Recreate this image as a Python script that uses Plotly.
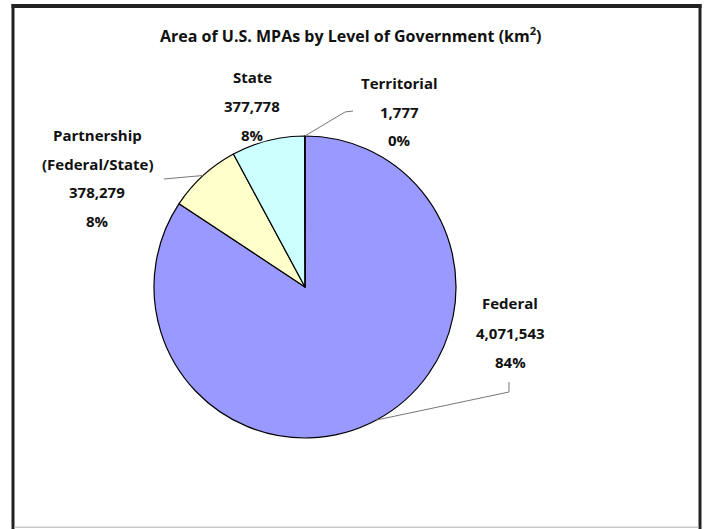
import math
import plotly.graph_objects as go

# ---- data ----
categories = ["Federal", "Partnership<br>(Federal/State)", "State", "Territorial"]
label_names = [["Federal"], ["Partnership", "(Federal/State)"], ["State"], ["Territorial"]]
values = [4071543, 378279, 377778, 1777]
value_labels = ["4,071,543", "378,279", "377,778", "1,777"]
pct_labels = ["84%", "8%", "8%", "0%"]
colors = ["#9999FF", "#FFFFCC", "#CCFFFF", "#993366"]
title_text = "<b>Area of U.S. MPAs by Level of Government (km<sup>2</sup>)</b>"

W, H = 704, 529
cx, cy, R = 305, 287, 151  # pie centre / radius in pixels

def px(x):
    return x / W

def py(y):
    return 1 - y / H

fig = go.Figure()
fig.add_trace(go.Pie(
    labels=categories, values=values, sort=False, direction="clockwise", rotation=0,
    marker=dict(colors=colors, line=dict(color="#000000", width=1.2)),
    textinfo="none", hoverinfo="label+value+percent", showlegend=False,
    domain=dict(x=[px(cx - R), px(cx + R)], y=[py(cy + R), py(cy - R)]),
))

# label blocks: (centre x, first line y, line step), and leader-line path after edge point
label_pos = [(510, 303, 29.5), (97, 135, 28.7), (252, 77, 29), (399, 83, 28.5)]
leader_tail = [[(509, 392), (509, 382)], [(164, 179)], None, [(345, 112), (353, 111)]]

FONT = "'Open Sans', Lato, sans-serif"
font_lbl = dict(family=FONT, size=15, color="#111111")
annotations = []
shapes = []
total = sum(values)
cum = 0
for i, v in enumerate(values):
    mid = (cum + v / 2) / total * 2 * math.pi
    cum += v
    ex = cx + R * math.sin(mid)
    ey = cy - R * math.cos(mid)
    lx, ly, step = label_pos[i]
    lines = label_names[i] + [value_labels[i], pct_labels[i]]
    for k, t in enumerate(lines):
        annotations.append(dict(x=px(lx), y=py(ly + k * step), xref="paper", yref="paper",
                                text="<b>%s</b>" % t, showarrow=False, font=font_lbl,
                                xanchor="center", yanchor="middle"))
    if leader_tail[i]:
        pts = [(ex, ey)] + leader_tail[i]
        path = "M %f,%f " % (px(pts[0][0]), py(pts[0][1])) + " ".join(
            "L %f,%f" % (px(a), py(b)) for a, b in pts[1:])
        shapes.append(dict(type="path", path=path, xref="paper", yref="paper",
                           line=dict(color="#777777", width=1)))

annotations.append(dict(x=px(351), y=py(35), xref="paper", yref="paper", text=title_text,
                        showarrow=False, font=dict(family=FONT, size=16, color="#111111"),
                        xanchor="center", yanchor="middle"))

# outer frame as filled bars
def bar(x0, x1, y0, y1, color):
    return dict(type="rect", xref="paper", yref="paper", x0=px(x0), x1=px(x1),
                y0=py(y1), y1=py(y0), line=dict(width=0), fillcolor=color, layer="above")

shapes.append(bar(11.5, 701.5, 4, 8, "#222222"))      # top
shapes.append(bar(11.5, 14.5, 4, 529, "#222222"))     # left
shapes.append(bar(698.5, 701.5, 4, 529, "#222222"))   # right
shapes.append(bar(14.5, 698.5, 526.5, 528, "#c8c8c8"))  # bottom hairline

fig.update_layout(width=W, height=H, margin=dict(l=0, r=0, t=0, b=0),
                  paper_bgcolor="white", plot_bgcolor="white",
                  annotations=annotations, shapes=shapes)
fig.write_html("out.html", config={"displayModeBar": False},
               post_script="document.body.style.margin='0';document.body.style.overflow='hidden';")
